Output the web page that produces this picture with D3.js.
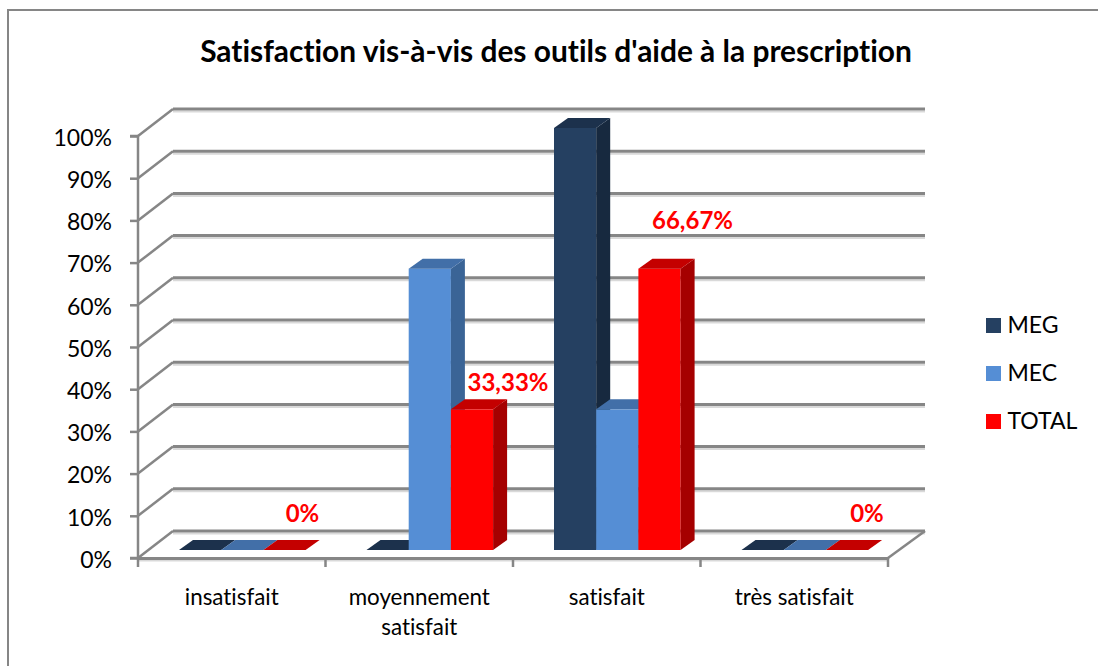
<!DOCTYPE html>
<html>
<head>
<meta charset="utf-8">
<script src="https://cdn.jsdelivr.net/npm/d3@7"></script>
<style>
html, body { margin: 0; padding: 0; background: #fff; overflow: hidden; }
text { font-family: Lato, "Open Sans", sans-serif; fill: #000; font-variant-ligatures: none; }
</style>
</head>
<body>
<div id="chart"></div>
<script>
var categories = [["insatisfait"], ["moyennement", "satisfait"], ["satisfait"], ["très satisfait"]];
var categoryKeys = ["insatisfait", "moyennement satisfait", "satisfait", "très satisfait"];
var seriesNames = ["MEG", "MEC", "TOTAL"];
var meg = [0, 0, 100, 0];
var mec = [0, 66.67, 33.33, 0];
var total = [0, 33.33, 66.67, 0];
var totalLabels = ["0%", "33,33%", "66,67%", "0%"];
var yTicks = [0, 10, 20, 30, 40, 50, 60, 70, 80, 90, 100];

var colors = {
    MEG: {front: "#254061", side: "#17293f", top: "#1c314c"},
    MEC: {front: "#558ed5", side: "#3a6496", top: "#426fa8"},
    TOTAL: {front: "#ff0000", side: "#a50000", top: "#c40000"}
};

var width = 1098, height = 666;
// offset from the front of the floor to the back wall
var wallDx = 35, wallDy = -27, wallRight = 925;
// offset of the bars from the front edge, and their depth
var barLift = -8, barDx = 14, barDy = -10;

var svg = d3.select("#chart").append("svg")
    .attr("width", width)
    .attr("height", height);

// chart frame, runs off the right and bottom of the picture
svg.append("rect")
    .attr("x", 8).attr("y", 10)
    .attr("width", width).attr("height", height)
    .attr("fill", "#fff")
    .attr("stroke", "#868686")
    .attr("stroke-width", 2);

var xScale = d3.scaleBand().domain(categoryKeys).range([138, 888]);
var seriesScale = d3.scaleBand().domain(seriesNames).range([41, 41 + 42.2 * 3]);
var yScale = d3.scaleLinear().domain([0, 100]).range([558, 136]);

svg.append("text")
    .attr("x", 556).attr("y", 62)
    .attr("text-anchor", "middle")
    .style("font-size", "29.9px")
    .style("font-weight", "bold")
    .text("Satisfaction vis-à-vis des outils d'aide à la prescription");

// walls
var grid = svg.append("g");
yTicks.forEach(function(t) {
    var y = yScale(t);
    grid.append("line")
        .attr("x1", 138 + wallDx).attr("x2", wallRight)
        .attr("y1", y + wallDy + 2.5).attr("y2", y + wallDy + 2.5)
        .attr("stroke", "#d9d9d9").attr("stroke-width", 2);
    grid.append("line")
        .attr("x1", 138 + wallDx).attr("x2", wallRight)
        .attr("y1", y + wallDy).attr("y2", y + wallDy)
        .attr("stroke", "#868686").attr("stroke-width", 3);
    grid.append("line")
        .attr("x1", 138).attr("x2", 138 + wallDx)
        .attr("y1", y).attr("y2", y + wallDy)
        .attr("stroke", "#868686").attr("stroke-width", 2.5);
});
grid.append("line")
    .attr("x1", 888).attr("x2", wallRight)
    .attr("y1", 558).attr("y2", 558 + wallDy)
    .attr("stroke", "#868686").attr("stroke-width", 2.5);
grid.append("line")
    .attr("x1", 138).attr("x2", 888)
    .attr("y1", 560.5).attr("y2", 560.5)
    .attr("stroke", "#d9d9d9").attr("stroke-width", 2);

// axes
var yAxis = d3.axisLeft(yScale)
    .tickValues(yTicks)
    .tickSize(8)
    .tickPadding(18)
    .tickFormat(function(d) { return d + "%"; });
var gy = svg.append("g")
    .attr("transform", "translate(138,0)")
    .call(yAxis);
gy.selectAll("path, line").attr("stroke", "#868686").attr("stroke-width", 2.5);
gy.select("path").attr("d", "M-8,136H0V558H-8");
gy.selectAll("text").style("font-size", "23px").attr("y", 2);

var xAxis = d3.axisBottom(xScale).tickValues([]).tickSizeOuter(0);
var gx = svg.append("g")
    .attr("transform", "translate(0,558)")
    .call(xAxis);
gx.select("path").attr("stroke", "#868686").attr("stroke-width", 3);

// ticks between the categories
var boundaries = categoryKeys.map(function(c) { return xScale(c); }).concat([xScale.range()[1]]);
svg.append("g").selectAll("line")
    .data(boundaries)
    .enter().append("line")
    .attr("x1", function(d) { return d; })
    .attr("x2", function(d) { return d; })
    .attr("y1", 558)
    .attr("y2", 567)
    .attr("stroke", "#868686")
    .attr("stroke-width", 2.5);

// category labels
categories.forEach(function(lines, i) {
    var cx = xScale(categoryKeys[i]) + xScale.bandwidth() / 2;
    lines.forEach(function(line, j) {
        svg.append("text")
            .attr("x", cx)
            .attr("y", 605 + j * 30)
            .attr("text-anchor", "middle")
            .style("font-size", "22.4px")
            .text(line);
    });
});

// bars
var seriesValues = {MEG: meg, MEC: mec, TOTAL: total};
var bars = [];
seriesNames.forEach(function(name) {
    seriesValues[name].forEach(function(v, i) {
        bars.push({series: name, cat: categoryKeys[i], value: v, order: i});
    });
});

function barX(d) { return xScale(d.cat) + seriesScale(d.series); }
function barTop(d) { return yScale(d.value) + barLift; }
var barBase = yScale(0) + barLift;
var barW = seriesScale.bandwidth();

var barG = svg.append("g").selectAll("g")
    .data(bars)
    .enter().append("g");

barG.append("rect")
    .attr("x", barX)
    .attr("y", barTop)
    .attr("width", barW)
    .attr("height", function(d) { return barBase - barTop(d); })
    .attr("fill", function(d) { return colors[d.series].front; });

barG.append("path")
    .attr("fill", function(d) { return colors[d.series].side; })
    .attr("d", function(d) {
        var x = barX(d) + barW, t = barTop(d);
        return "M" + x + "," + t + "L" + (x + barDx) + "," + (t + barDy) +
            "L" + (x + barDx) + "," + (barBase + barDy) + "L" + x + "," + barBase + "Z";
    });

barG.append("path")
    .attr("fill", function(d) { return colors[d.series].top; })
    .attr("d", function(d) {
        var x = barX(d), t = barTop(d);
        return "M" + x + "," + t + "L" + (x + barDx) + "," + (t + barDy) +
            "L" + (x + barW + barDx) + "," + (t + barDy) + "L" + (x + barW) + "," + t + "Z";
    });

// data labels on TOTAL
var labelOffsets = [[14, -28], [32, -18], [29, -40], [16, -28]];
total.forEach(function(v, i) {
    var d = {series: "TOTAL", cat: categoryKeys[i], value: v};
    svg.append("text")
        .attr("x", barX(d) + barW / 2 + labelOffsets[i][0] + 4)
        .attr("y", barTop(d) + labelOffsets[i][1])
        .attr("text-anchor", "middle")
        .style("font-size", "24px")
        .style("font-weight", "bold")
        .style("fill", "#ff0000")
        .text(totalLabels[i]);
});

// legend
var legendY = d3.scalePoint().domain(seriesNames).range([325.5, 421.5]);
var legend = svg.append("g").selectAll("g")
    .data(seriesNames)
    .enter().append("g")
    .attr("transform", function(d) { return "translate(986," + legendY(d) + ")"; });
legend.append("rect")
    .attr("x", 0).attr("y", -7.5)
    .attr("width", 15).attr("height", 15)
    .attr("fill", function(d) { return colors[d].front; });
legend.append("text")
    .attr("x", 21.5).attr("y", 7.5)
    .style("font-size", "23px")
    .text(function(d) { return d; });
</script>
</body>
</html>
